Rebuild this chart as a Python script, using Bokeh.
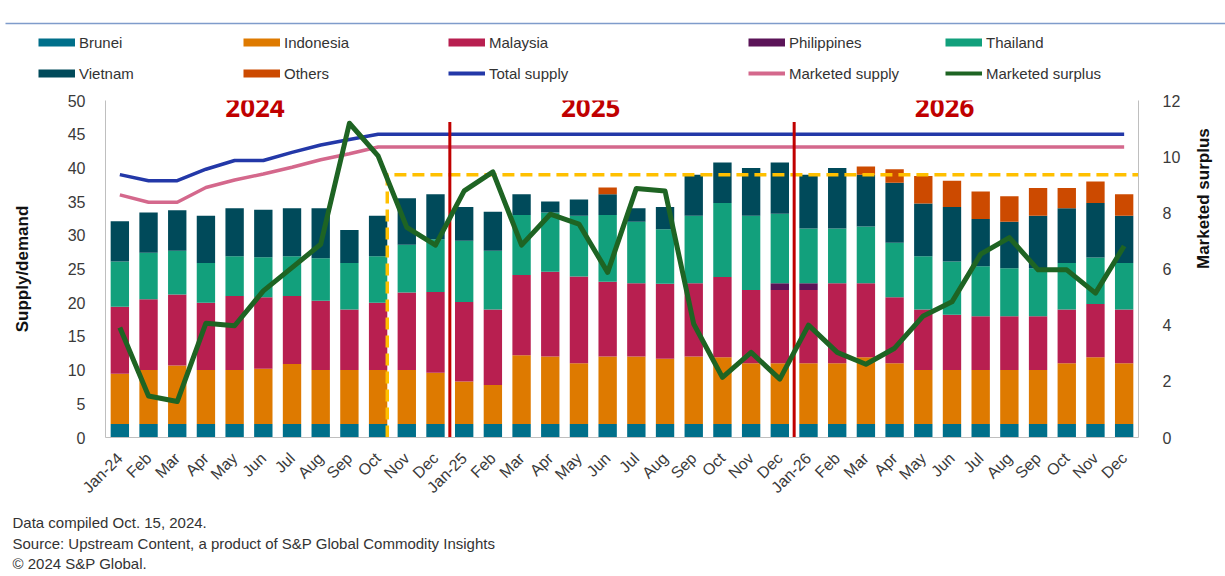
import math
from bokeh.plotting import figure
from bokeh.layouts import column
from bokeh.models import (ColumnDataSource, Range1d, LinearAxis, FixedTicker,
                          Legend, LegendItem, Label)
from bokeh.embed import file_html
from bokeh.resources import INLINE

# ---------------- data ----------------
months = ["Jan-24", "Feb", "Mar", "Apr", "May", "Jun", "Jul", "Aug", "Sep", "Oct", "Nov", "Dec",
          "Jan-25", "Feb", "Mar", "Apr", "May", "Jun", "Jul", "Aug", "Sep", "Oct", "Nov", "Dec",
          "Jan-26", "Feb", "Mar", "Apr", "May", "Jun", "Jul", "Aug", "Sep", "Oct", "Nov", "Dec"]

brunei = [2.0, 2.0, 2.0, 2.0, 2.0, 2.0, 2.0, 2.0, 2.0, 2.0, 2.0, 2.0,
          2.0, 2.0, 2.0, 2.0, 2.0, 2.0, 2.0, 2.0, 2.0, 2.0, 2.0, 2.0,
          2.0, 2.0, 2.0, 2.0, 2.0, 2.0, 2.0, 2.0, 2.0, 2.0, 2.0, 2.0]
indonesia = [7.45, 8.0, 8.7, 8.0, 8.0, 8.2, 8.9, 8.0, 8.0, 8.0, 8.0, 7.6,
             6.3, 5.8, 10.2, 10.0, 9.0, 10.0, 10.0, 9.7, 10.0, 9.9, 9.0, 9.0,
             9.0, 9.0, 9.9, 9.0, 8.0, 8.0, 8.0, 8.0, 8.0, 9.0, 9.9, 9.0]
malaysia = [9.95, 10.5, 10.5, 10.0, 11.0, 10.6, 10.1, 10.3, 9.0, 10.0, 11.5, 12.0,
            11.8, 11.2, 11.9, 12.6, 12.9, 11.1, 10.9, 11.1, 10.9, 11.9, 10.9, 10.9,
            10.9, 11.9, 11.0, 9.8, 9.0, 8.2, 8.0, 8.0, 8.0, 8.0, 7.9, 8.0]
philippines = [0.0, 0.0, 0.0, 0.0, 0.0, 0.0, 0.0, 0.0, 0.0, 0.0, 0.0, 0.0,
               0.0, 0.0, 0.0, 0.0, 0.0, 0.0, 0.0, 0.0, 0.0, 0.0, 0.0, 1.0,
               1.0, 0.0, 0.0, 0.0, 0.0, 0.0, 0.0, 0.0, 0.0, 0.0, 0.0, 0.0]
thailand = [6.7, 6.9, 6.5, 5.9, 5.9, 5.95, 5.9, 6.3, 6.9, 6.9, 7.1, 7.8,
            9.1, 8.7, 8.9, 8.8, 9.0, 9.9, 9.1, 8.1, 10.0, 11.0, 11.0, 10.3,
            8.1, 8.1, 8.4, 8.1, 7.9, 7.9, 7.4, 7.1, 7.1, 6.9, 6.9, 6.9]
vietnam = [6.0, 6.0, 6.0, 7.0, 7.1, 7.05, 7.1, 7.4, 4.9, 6.0, 6.9, 6.7,
           5.0, 5.8, 3.1, 1.6, 2.4, 3.1, 2.0, 3.3, 6.1, 6.0, 7.1, 7.6,
           8.0, 9.0, 7.7, 8.9, 7.8, 8.1, 7.0, 6.9, 7.8, 8.1, 8.1, 7.0]
others = [0.0, 0.0, 0.0, 0.0, 0.0, 0.0, 0.0, 0.0, 0.0, 0.0, 0.0, 0.0,
          0.0, 0.0, 0.0, 0.0, 0.0, 1.0, 0.0, 0.0, 0.0, 0.0, 0.0, 0.0,
          0.0, 0.0, 1.2, 2.0, 4.1, 3.9, 4.1, 3.8, 4.1, 3.0, 3.2, 3.2]

total_supply = [39.0, 38.1, 38.1, 39.8, 41.1, 41.1, 42.3, 43.4, 44.2, 45.0, 45.0, 45.0,
                45.0, 45.0, 45.0, 45.0, 45.0, 45.0, 45.0, 45.0, 45.0, 45.0, 45.0, 45.0,
                45.0, 45.0, 45.0, 45.0, 45.0, 45.0, 45.0, 45.0, 45.0, 45.0, 45.0, 45.0]
marketed_supply = [36.0, 34.9, 34.9, 37.1, 38.2, 39.1, 40.1, 41.2, 42.1, 43.1, 43.1, 43.1,
                   43.1, 43.1, 43.1, 43.1, 43.1, 43.1, 43.1, 43.1, 43.1, 43.1, 43.1, 43.1,
                   43.1, 43.1, 43.1, 43.1, 43.1, 43.1, 43.1, 43.1, 43.1, 43.1, 43.1, 43.1]
marketed_surplus = [3.92, 1.48, 1.28, 4.07, 3.98, 5.22, 6.05, 6.88, 11.19, 10.03, 7.48, 6.85,
                    8.78, 9.46, 6.85, 7.95, 7.6, 5.88, 8.87, 8.78, 4.04, 2.14, 3.03, 2.08,
                    4.0, 3.03, 2.61, 3.18, 4.33, 4.83, 6.53, 7.12, 5.97, 5.97, 5.14, 6.82]

series_names = ["Brunei", "Indonesia", "Malaysia", "Philippines", "Thailand", "Vietnam", "Others"]
series_colors = ["#006F8A", "#DE7A00", "#B81F50", "#5B1458", "#12A07C", "#004A5A", "#CC4A00"]

left_ticks = [0, 5, 10, 15, 20, 25, 30, 35, 40, 45, 50]
right_ticks = [0, 2, 4, 6, 8, 10, 12]

year_labels = ["2024", "2025", "2026"]
year_label_x = [4.71, 16.41, 28.74]
year_label_y = 48.9
year_divider_x = [11.5, 23.5]
year_divider_top = 46.8
forecast_start_x = 9.32
reference_level = 39.0

footnotes = ["Data compiled Oct. 15, 2024.",
             "Source: Upstream Content, a product of S&P Global Commodity Insights",
             "\u00a9 2024 S&P Global."]

# ---------------- styling ----------------
FONT = "Liberation Sans"
TXT = "#3a3a3a"
AXIS_GRAY = "#BFBFBF"
W = 1225
TOP_H, MAIN_H, BOT_H = 88, 417, 69


def no_align(fig):
    if "frame_align" in fig.properties():
        fig.frame_align = False


# ---------------- main chart ----------------
x = list(range(len(months)))
src = ColumnDataSource(dict(x=x, Brunei=brunei, Indonesia=indonesia, Malaysia=malaysia,
                            Philippines=philippines, Thailand=thailand, Vietnam=vietnam,
                            Others=others))

p = figure(width=W, height=MAIN_H, output_backend="svg", toolbar_location=None,
           x_range=Range1d(-0.5, 35.5), y_range=Range1d(0, 50),
           min_border_left=105, min_border_right=83, min_border_top=12, min_border_bottom=68)
no_align(p)
p.extra_y_ranges = {"surplus": Range1d(0, 12)}
p.xgrid.visible = False
p.ygrid.visible = False
p.outline_line_color = None

ya = p.yaxis[0]
ya.ticker = FixedTicker(ticks=left_ticks)
ya.axis_line_color = AXIS_GRAY
ya.major_tick_line_color = None
ya.minor_tick_line_color = None
ya.major_label_text_font = FONT
ya.major_label_text_font_size = "16px"
ya.major_label_text_color = TXT
ya.major_label_standoff = 14
ya.axis_label = "Supply/demand"
ya.axis_label_text_font = FONT
ya.axis_label_text_font_style = "bold"
ya.axis_label_text_font_size = "17px"
ya.axis_label_text_color = "#111111"
ya.axis_label_standoff = 33

xa = p.xaxis[0]
xa.ticker = FixedTicker(ticks=x)
xa.major_label_overrides = {i: m for i, m in enumerate(months)}
xa.major_label_orientation = math.pi / 4
xa.axis_line_color = AXIS_GRAY
xa.major_tick_line_color = None
xa.minor_tick_line_color = None
xa.major_label_text_font = FONT
xa.major_label_text_font_size = "16px"
xa.major_label_text_color = TXT
xa.major_label_standoff = 12

ra = LinearAxis(y_range_name="surplus", ticker=FixedTicker(ticks=right_ticks))
ra.axis_line_color = AXIS_GRAY
ra.major_tick_line_color = None
ra.minor_tick_line_color = None
ra.major_label_text_font = FONT
ra.major_label_text_font_size = "16px"
ra.major_label_text_color = TXT
ra.major_label_standoff = 18
ra.axis_label = "Marketed surplus"
ra.axis_label_text_font = FONT
ra.axis_label_text_font_style = "bold"
ra.axis_label_text_font_size = "17px"
ra.axis_label_text_color = "#111111"
ra.axis_label_standoff = 20
if "axis_label_orientation" in ra.properties():
    ra.axis_label_orientation = math.pi / 2
p.add_layout(ra, "right")

p.vbar_stack(series_names, x="x", width=0.64, source=src,
             fill_color=series_colors, line_color=None)

p.line(x, total_supply, line_color="#2338A8", line_width=3.5)
p.line(x, marketed_supply, line_color="#D4688C", line_width=3.5)

p.line([forecast_start_x, forecast_start_x, 35.5], [0, reference_level, reference_level],
       line_color="#FFC000", line_width=3.5, line_dash="12 6")

p.segment(x0=year_divider_x, y0=[0, 0], x1=year_divider_x,
          y1=[year_divider_top, year_divider_top], line_color="#C00000", line_width=3)

p.line(x, marketed_surplus, y_range_name="surplus", line_color="#1E6423",
       line_width=5, line_join="round")

for t, xx in zip(year_labels, year_label_x):
    p.add_layout(Label(x=xx, y=year_label_y, text=t, text_font="Noto Sans",
                       text_font_style="bold", text_font_size="26px", text_color="#C00000",
                       text_align="center", text_baseline="middle"))

# ---------------- legend strip ----------------
top = figure(width=W, height=TOP_H, output_backend="svg", toolbar_location=None,
             x_range=Range1d(0, W), y_range=Range1d(0, TOP_H),
             x_axis_type=None, y_axis_type=None, min_border=0)
no_align(top)
top.outline_line_color = None
top.segment(x0=[5], y0=[TOP_H - 23], x1=[W], y1=[TOP_H - 23], line_color="#7F9CCB",
            line_width=1.5)

NAN = float("nan")


def swatch(color, width):
    return top.line(x=[NAN], y=[NAN], line_color=color, line_width=width)


sw = {n: swatch(c, 8) for n, c in zip(series_names, series_colors)}
sw["Total supply"] = swatch("#2338A8", 4)
sw["Marketed supply"] = swatch("#D4688C", 4)
sw["Marketed surplus"] = swatch("#1E6423", 4)

leg_common = dict(orientation="horizontal", glyph_width=37, glyph_height=18, label_height=18,
                  label_standoff=4, spacing=13, padding=0, margin=0, border_line_color=None,
                  background_fill_alpha=0, label_text_font=FONT, label_text_font_size="15px",
                  label_text_color="#333333")
legA = Legend(items=[LegendItem(label=n, renderers=[sw[n]]) for n in
                     ["Brunei", "Indonesia", "Malaysia", "Vietnam", "Others", "Total supply"]],
              location=(38, 6), ncols=3, label_width=151, **leg_common)
legB = Legend(items=[LegendItem(label=n, renderers=[sw[n]]) for n in
                     ["Philippines", "Thailand", "Marketed supply", "Marketed surplus"]],
              location=(748, 6), ncols=2, label_width=143, **leg_common)
top.add_layout(legA)
top.add_layout(legB)

# ---------------- footnote strip ----------------
bot = figure(width=W, height=BOT_H, output_backend="svg", toolbar_location=None,
             x_range=Range1d(0, W), y_range=Range1d(0, BOT_H),
             x_axis_type=None, y_axis_type=None, min_border=0)
no_align(bot)
bot.outline_line_color = None
for t, yy in zip(footnotes, [52, 31, 11]):
    bot.add_layout(Label(x=12, y=yy, text=t, text_font=FONT, text_font_size="15px",
                         text_color="#333333", text_align="left", text_baseline="middle"))

layout = column(top, p, bot, spacing=0)
open("out.html", "w").write(file_html(layout, INLINE))
